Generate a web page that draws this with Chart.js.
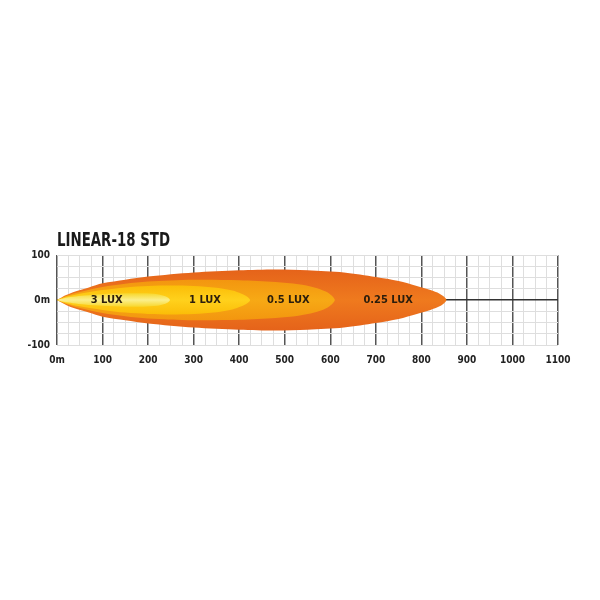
<!DOCTYPE html>
<html>
<head>
<meta charset="utf-8">
<script src="https://cdn.jsdelivr.net/npm/chart.js@4.4.1/dist/chart.umd.min.js"></script>
<style>
  body { margin: 0; background: #fff; }
  #wrap { width: 600px; height: 600px; position: relative; }
</style>
</head>
<body>
<div id="wrap"><canvas id="beamChart"></canvas></div>
<script>
// beam outlines: distance (m) and half width
var lux3X = [0, 15, 35, 60, 100, 150, 190, 220, 236, 244, 248];
var lux3W = [0, 4, 7, 10, 13, 15, 15, 13, 9, 5, 0];

var lux1X = [0, 20, 50, 100, 150, 200, 250, 300, 350, 385, 405, 417, 424];
var lux1W = [0, 7, 14, 22, 28, 31, 32, 31, 27, 21, 14, 8, 0];

var lux05X = [0, 20, 50, 100, 150, 200, 300, 400, 480, 530, 565, 590, 603, 610];
var lux05W = [0, 9, 18, 29, 36, 41, 45, 44, 40, 35, 28, 19, 10, 0];

var lux025X = [0, 20, 40, 70, 100, 150, 200, 300, 400, 480, 550, 630, 700, 750, 790, 820, 840, 850, 855];
var lux025W = [0, 11, 19, 28, 37, 45, 52, 61, 66, 68, 66, 61, 51, 42, 31, 22, 14, 7, 0];

var zoneLabels = ['3 LUX', '1 LUX', '0.5 LUX', '0.25 LUX'];
var zoneLabelX = [109, 325, 508, 727];

var xTicks = [0, 100, 200, 300, 400, 500, 600, 700, 800, 900, 1000, 1100];
var yTicks = [100, 0, -100];

var chartTitle = 'LINEAR-18 STD';

function outline(xs, ws) {
  var pts = [];
  for (var i = 0; i < xs.length; i++) pts.push({x: xs[i], y: ws[i]});
  for (var j = xs.length - 2; j >= 0; j--) pts.push({x: xs[j], y: -ws[j]});
  return pts;
}

function beamFill(edge, mid, half) {
  return function(context) {
    var chart = context.chart;
    if (!chart.chartArea) return mid;
    var y = chart.scales.y;
    var g = chart.ctx.createLinearGradient(0, y.getPixelForValue(half), 0, y.getPixelForValue(-half));
    g.addColorStop(0, edge);
    g.addColorStop(0.5, mid);
    g.addColorStop(1, edge);
    return g;
  };
}

function zone(xs, ws, edge, mid) {
  return {
    data: outline(xs, ws),
    showLine: true,
    fill: 'shape',
    tension: 0.3,
    borderWidth: 0,
    pointRadius: 0,
    backgroundColor: beamFill(edge, mid, Math.max.apply(null, ws))
  };
}

var labelPlugin = {
  id: 'beamText',
  afterDatasetsDraw: function(chart) {
    var ctx = chart.ctx;
    var x = chart.scales.x, y = chart.scales.y;
    ctx.save();
    ctx.fillStyle = '#2b1d0c';
    ctx.font = 'bold 11px "Liberation Sans Narrow", "DejaVu Sans Condensed", sans-serif';
    ctx.textAlign = 'center';
    ctx.textBaseline = 'middle';
    zoneLabels.forEach(function(t, i) {
      ctx.fillText(t, x.getPixelForValue(zoneLabelX[i]), y.getPixelForValue(0));
    });
    ctx.fillStyle = '#1a1a1a';
    ctx.font = 'bold 20px "Liberation Sans Narrow", "DejaVu Sans Condensed", sans-serif';
    ctx.textAlign = 'left';
    ctx.textBaseline = 'alphabetic';
    ctx.fillText(chartTitle, chart.chartArea.left, 246, 113);
    ctx.restore();
  }
};

document.addEventListener('DOMContentLoaded', function() {
  var ctx = document.getElementById('beamChart').getContext('2d');
  var tickFont = { family: '"Liberation Sans Narrow", "DejaVu Sans Condensed", sans-serif', size: 10, weight: 'bold' };

  new Chart(ctx, {
    type: 'scatter',
    data: {
      datasets: [
        zone(lux3X, lux3W, '#f8d72c', '#fbef8c'),
        zone(lux1X, lux1W, '#fbbd08', '#ffd11c'),
        zone(lux05X, lux05W, '#f3960f', '#f7a915'),
        zone(lux025X, lux025W, '#e5631a', '#ef7a1e')
      ]
    },
    options: {
      responsive: true,
      maintainAspectRatio: false,
      animation: false,
      layout: { padding: { left: 0, right: 42, top: 255, bottom: 230 } },
      plugins: { legend: { display: false }, tooltip: { enabled: false } },
      scales: {
        x: {
          type: 'linear',
          min: 0,
          max: 1100,
          afterFit: function(s) { s.height = 25; },
          border: { display: false },
          grid: {
            drawTicks: false,
            color: function(c) { return c.tick.value % 100 === 0 ? '#555' : '#dedede'; },
            lineWidth: function(c) { return c.tick.value % 100 === 0 ? 1.5 : 1; }
          },
          ticks: {
            stepSize: 25,
            autoSkip: false,
            maxRotation: 0,
            padding: 9,
            color: '#222',
            font: tickFont,
            callback: function(v) {
              if (xTicks.indexOf(v) < 0) return '';
              return v === 0 ? '0m' : v;
            }
          }
        },
        y: {
          type: 'linear',
          min: -100,
          max: 100,
          afterFit: function(s) { s.width = 57; },
          border: { display: false },
          grid: {
            drawTicks: false,
            color: function(c) { return c.tick.value === 0 ? '#333' : '#dedede'; },
            lineWidth: function(c) { return c.tick.value === 0 ? 1.5 : 1; }
          },
          ticks: {
            stepSize: 25,
            autoSkip: false,
            padding: 7,
            color: '#222',
            font: tickFont,
            callback: function(v) {
              if (yTicks.indexOf(v) < 0) return '';
              return v === 0 ? '0m' : v;
            }
          }
        }
      }
    },
    plugins: [labelPlugin]
  });
});
</script>
</body>
</html>
